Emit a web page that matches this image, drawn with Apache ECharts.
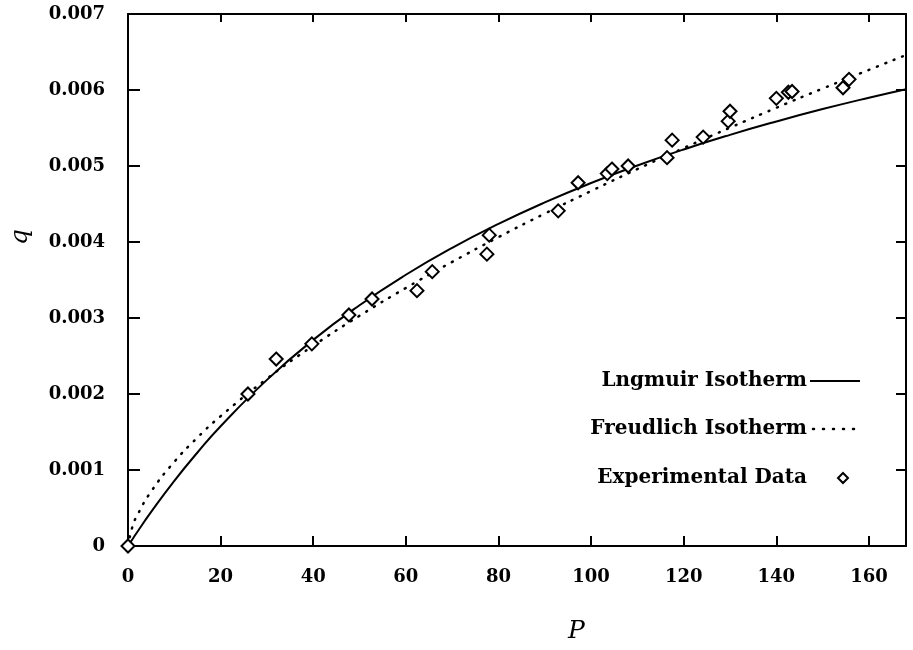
<!DOCTYPE html>
<html>
<head>
<meta charset="utf-8">
<script src="https://cdn.jsdelivr.net/npm/echarts@6/dist/echarts.min.js"></script>
<style>
	body { margin: 0; background: #fff; }
	#chart { width: 913px; height: 650px; }
</style>
</head>
<body>
<div id="chart"></div>
<script>
// experimental points
let expP = [0, 25.9, 32.0, 39.7, 47.7, 52.7, 62.4, 65.7, 77.5, 78.0, 92.9, 97.2, 103.5, 104.5, 108.0, 116.4, 117.5, 124.2, 129.6, 130.0, 140.0, 142.6, 143.4, 154.4, 155.7];
let expQ = [0, 0.00200, 0.00246, 0.00266, 0.00304, 0.00325, 0.00336, 0.00361, 0.00384, 0.00409, 0.00441, 0.00478, 0.00490, 0.00496, 0.00500, 0.00511, 0.00534, 0.00538, 0.00559, 0.00572, 0.00589, 0.00597, 0.00598, 0.00603, 0.00614];

// curves, read at fixed P
let curveP = [0, 1, 2, 5, 10, 15, 20, 30, 40, 50, 60, 70, 80, 90, 100, 110, 120, 130, 140, 150, 160, 168];
let langmuirQ = [0, 0.000093, 0.000185, 0.000449, 0.000858, 0.001230, 0.001576, 0.002186, 0.002712, 0.003168, 0.003569, 0.003923, 0.004238, 0.004521, 0.004776, 0.005007, 0.005218, 0.005410, 0.005586, 0.005749, 0.005899, 0.006011];
let freundlichQ = [0, 0.000263, 0.000405, 0.000718, 0.001108, 0.001427, 0.001708, 0.002201, 0.002635, 0.003029, 0.003395, 0.003738, 0.004064, 0.004374, 0.004671, 0.004960, 0.005236, 0.005504, 0.005766, 0.006019, 0.006265, 0.006460];

let legendNames = ['Lngmuir Isotherm', 'Freudlich Isotherm', 'Experimental Data'];

let FONT = 'DejaVu Serif';

let langData = curveP.map((p, i) => [p, langmuirQ[i]]);
let freuData = curveP.map((p, i) => [p, freundlichQ[i]]);
let expData = expP.map((p, i) => [p, expQ[i]]);

let myChart = echarts.init(document.getElementById('chart'));

let frameX = {
	min: 0,
	max: 168,
	interval: 20,
	axisLine: { show: true, onZero: false, lineStyle: { color: '#000', width: 2 } },
	splitLine: { show: false }
};
let frameY = {
	min: 0,
	max: 0.007,
	interval: 0.001,
	axisLine: { show: true, onZero: false, lineStyle: { color: '#000', width: 2 } },
	splitLine: { show: false }
};

// hand-drawn legend in the lower right, text right-aligned with the key after it
let legendRows = [381, 429, 478];
let legendText = legendNames.map((name, i) => ({
	type: 'text',
	x: 807,
	y: legendRows[i],
	style: {
		text: name,
		font: 'bold 20px "DejaVu Serif"',
		fill: '#000',
		textAlign: 'right',
		textVerticalAlign: 'middle'
	}
}));

option = {
	animation: false,
	backgroundColor: '#fff',
	title: {
		text: 'P',
		left: 563,
		top: 614,
		textStyle: { fontFamily: FONT, fontStyle: 'italic', fontWeight: 'normal', fontSize: 25, color: '#000' }
	},
	graphic: legendText.concat([
		{
			type: 'text',
			x: 20,
			y: 237,
			rotation: Math.PI / 2,
			style: {
				text: 'q',
				font: 'italic 25px "DejaVu Serif"',
				fill: '#000',
				textAlign: 'center',
				textVerticalAlign: 'middle'
			}
		},
		{
			type: 'line',
			shape: { x1: 810, y1: legendRows[0], x2: 860, y2: legendRows[0] },
			style: { stroke: '#000', lineWidth: 2 }
		},
		{
			type: 'line',
			shape: { x1: 813, y1: legendRows[1], x2: 863, y2: legendRows[1] },
			style: { stroke: '#000', lineWidth: 2.5, lineDash: [1, 9], lineCap: 'round' }
		},
		{
			type: 'polygon',
			shape: { points: [[843, legendRows[2] - 5], [848, legendRows[2]], [843, legendRows[2] + 5], [838, legendRows[2]]] },
			style: { fill: '#fff', stroke: '#000', lineWidth: 2 }
		}
	]),
	grid: {
		left: 128,
		right: 7,
		top: 14,
		bottom: 104
	},
	xAxis: [
		Object.assign({}, frameX, {
			type: 'value',
			position: 'bottom',
			axisTick: { inside: true, length: 10, lineStyle: { color: '#000', width: 2 } },
			axisLabel: { margin: 22, showMaxLabel: false, fontFamily: FONT, fontWeight: 'bold', fontSize: 18, color: '#000' }
		}),
		Object.assign({}, frameX, {
			type: 'value',
			position: 'top',
			axisTick: { inside: true, length: 8, lineStyle: { color: '#000', width: 2 } },
			axisLabel: { show: false }
		})
	],
	yAxis: [
		Object.assign({}, frameY, {
			type: 'value',
			position: 'left',
			axisTick: { inside: true, length: 12, lineStyle: { color: '#000', width: 2 } },
			axisLabel: {
				margin: 23,
				fontFamily: FONT,
				fontWeight: 'bold',
				fontSize: 18,
				color: '#000',
				formatter: v => v === 0 ? '0' : v.toFixed(3)
			}
		}),
		Object.assign({}, frameY, {
			type: 'value',
			position: 'right',
			axisTick: { inside: true, length: 10, lineStyle: { color: '#000', width: 2 } },
			axisLabel: { show: false }
		})
	],
	series: [
		{
			name: legendNames[0],
			type: 'line',
			smooth: true,
			symbol: 'none',
			lineStyle: { color: '#000', width: 2 },
			data: langData
		},
		{
			name: legendNames[1],
			type: 'line',
			smooth: true,
			symbol: 'none',
			lineStyle: { color: '#000', width: 2.5, type: [1, 8], cap: 'round' },
			data: freuData
		},
		{
			name: legendNames[2],
			type: 'scatter',
			symbol: 'diamond',
			symbolSize: 13,
			z: 5,
			itemStyle: { color: '#fff', borderColor: '#000', borderWidth: 2, opacity: 1 },
			data: expData
		}
	]
};

myChart.setOption(option);
</script>
</body>
</html>
